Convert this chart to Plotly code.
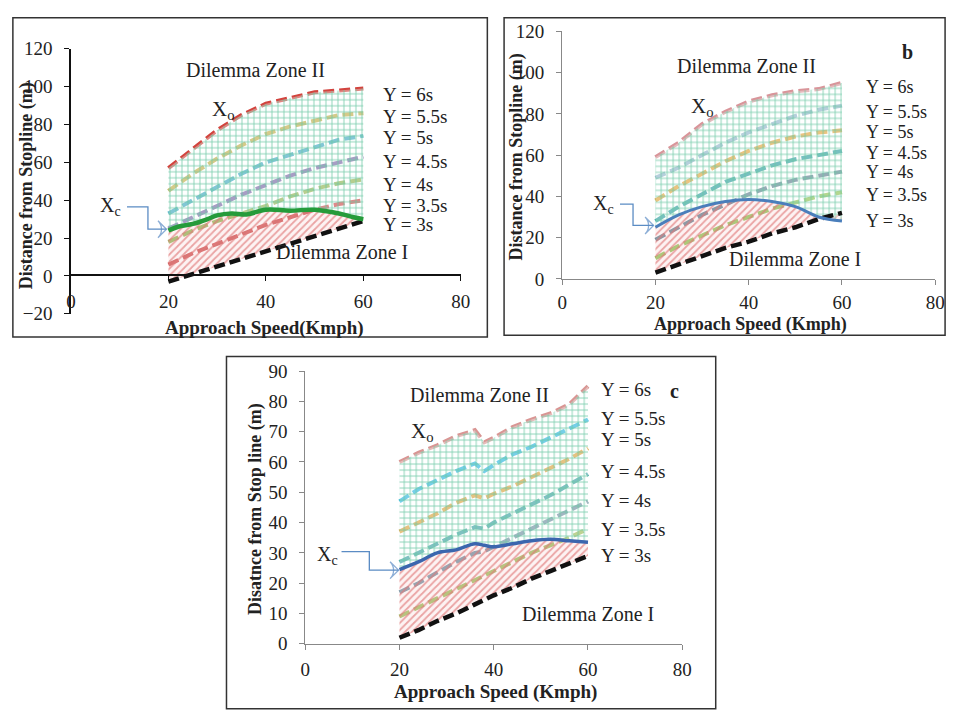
import plotly.graph_objects as go

W, H = 960, 714
SERIF = "Liberation Serif"

# ---------------- data ----------------
speed = [20, 25, 30, 35, 40, 45, 50, 55, 60]
y_labels = ["Y = 6s", "Y = 5.5s", "Y = 5s", "Y = 4.5s", "Y = 4s", "Y = 3.5s", "Y = 3s"]

# panel a
a_y6 = [57, 67, 77, 85, 91, 94, 97, 98, 99]
a_y55 = [45, 54, 62, 69, 75, 79, 82, 85, 86]
a_y5 = [33, 40, 47, 54, 60, 64, 68, 72, 74]
a_y45 = [25, 31, 37, 43, 48, 53, 57, 60, 63]
a_y4 = [18, 24, 29, 33, 37, 42, 46, 49, 51]
a_y35 = [6, 12, 17, 22, 27, 31, 35, 38, 40]
a_y3 = [-3, 1, 5, 9, 13, 17, 21, 25, 29]
a_xc_speed = [20, 22, 25, 28, 30, 33, 36, 40, 45, 50, 55, 58, 60]
a_xc = [24, 26, 27.5, 30, 32, 33, 32.5, 35, 34.5, 35, 33, 31, 30]

# panel b
b_y6 = [59, 66, 75, 81, 86, 89, 91, 92, 95]
b_y55 = [49, 54, 60, 66, 71, 75, 79, 82, 84]
b_y5 = [38, 45, 51, 57, 62, 66, 69, 71, 72]
b_y45 = [28, 35, 41, 47, 51, 55, 58, 60, 62]
b_y4 = [19, 25, 31, 36, 41, 45, 48, 50, 52]
b_y35 = [10, 16, 21, 26, 30, 34, 37, 40, 42]
b_y3 = [3, 7, 11, 15, 18, 22, 25, 29, 32]
b_xc_speed = [20, 25, 30, 35, 40, 45, 50, 55, 60]
b_xc = [25, 31, 35, 37.5, 38.5, 37.5, 35, 30, 28]

# panel c
c_speed = [20, 24, 28, 32, 36, 38, 40, 44, 48, 52, 56, 60]
c_y6 = [60, 63, 65.5, 68.5, 70.5, 66.5, 68, 71.5, 74, 76, 79, 85]
c_y55 = [47, 51, 54, 57, 59.5, 57, 59, 62.5, 65, 68, 71, 74]
c_y5 = [37, 40, 43, 46.5, 49, 48, 49.5, 52, 55, 58, 61, 64.5]
c_y45 = [27, 30, 33, 36, 38.5, 38, 40, 43, 46, 49, 52.5, 56]
c_y4 = [17, 20, 23.5, 27, 30, 30.5, 32, 35, 38, 41, 44, 47]
c_y35 = [9, 12, 15, 18, 21, 22.5, 24, 27, 30, 32.5, 35, 38]
c_y3 = [2, 4.5, 7.5, 10, 13, 14.5, 16, 18.5, 21.5, 24, 26.5, 29]
c_xc = [24.5, 27, 30, 31, 33, 32.5, 32, 33, 34, 34.5, 34, 33.5]

# label positions (in each panel's data units)
a_label_y = [95.9, 84.5, 73.2, 60.3, 48.5, 37.1, 27.3]
b_label_y = [93.2, 81.0, 71.2, 61.0, 51.8, 40.5, 28.2]
c_label_y = [83.9, 74.3, 67.3, 56.7, 47.4, 37.8, 29.1]

# Xc arrow paths
a_arrow_x = [11.5, 15.8, 15.8, 19.6]
a_arrow_y = [36.5, 36.5, 24.7, 24.7]
b_arrow_x = [12.4, 15.2, 15.2, 19.6]
b_arrow_y = [36.2, 36.2, 25.9, 25.9]
c_arrow_x = [7.7, 13.6, 13.6, 19.8]
c_arrow_y = [30.4, 30.4, 24.3, 24.3]

fig = go.Figure()


def panel(ax, speeds, series, colors, xc_speed, xc, xc_color, xc_width,
          arrow_x, arrow_y):
    xr, yr = ("x" if ax == 1 else f"x{ax}"), ("y" if ax == 1 else f"y{ax}")
    # dashed Y-lines (except 3s) drawn under the zone patterns
    for vals, col in zip(series[:-1], colors[:-1]):
        fig.add_trace(go.Scatter(x=speeds, y=vals, mode="lines", xaxis=xr, yaxis=yr,
                                 line=dict(color=col, width=4, dash="11px,5px"),
                                 hoverinfo="skip"))
    # Dilemma Zone I : between Y=3s line and Xc
    fig.add_trace(go.Scatter(
        x=list(xc_speed) + list(speeds)[::-1],
        y=list(xc) + list(series[-1])[::-1],
        mode="none", fill="toself", xaxis=xr, yaxis=yr, hoverinfo="skip",
        fillcolor="rgba(0,0,0,0)",
        fillpattern=dict(shape="/", fgcolor="#E07878", fgopacity=0.65,
                         bgcolor="rgba(250,215,215,0.3)", size=5, solidity=0.35,
                         fillmode="replace")))
    # Dilemma Zone II : between Xc and Y=6s line
    fig.add_trace(go.Scatter(
        x=list(speeds) + list(xc_speed)[::-1],
        y=list(series[0]) + list(xc)[::-1],
        mode="none", fill="toself", xaxis=xr, yaxis=yr, hoverinfo="skip",
        fillcolor="rgba(0,0,0,0)",
        fillpattern=dict(shape="+", fgcolor="#6CC8A4", fgopacity=0.9,
                         bgcolor="rgba(255,255,255,0.35)", size=6, solidity=0.26,
                         fillmode="replace")))
    # Y = 3s line
    fig.add_trace(go.Scatter(x=speeds, y=series[-1], mode="lines", xaxis=xr, yaxis=yr,
                             line=dict(color=colors[-1], width=4.5, dash="11px,5px"),
                             hoverinfo="skip"))
    # Xc line
    fig.add_trace(go.Scatter(x=xc_speed, y=xc, mode="lines", xaxis=xr, yaxis=yr,
                             line=dict(color=xc_color, width=xc_width, shape="spline"),
                             hoverinfo="skip"))
    # Xc arrow
    fig.add_trace(go.Scatter(x=arrow_x, y=arrow_y, mode="lines+markers", xaxis=xr, yaxis=yr,
                             line=dict(color="#5B8CC4", width=1.3),
                             marker=dict(symbol="arrow-wide-open", size=[0, 0, 0, 12],
                                         angleref="previous", color="#5B8CC4",
                                         line=dict(color="#5B8CC4", width=1.3)),
                             hoverinfo="skip"))


panel(1, speed, [a_y6, a_y55, a_y5, a_y45, a_y4, a_y35, a_y3],
      ["#D2443E", "#BFAE4A", "#3FA9BF", "#7A68A6", "#8FB352", "#CC4B4B", "#111111"],
      a_xc_speed, a_xc, "#259B3A", 4.5, a_arrow_x, a_arrow_y)
panel(2, speed, [b_y6, b_y55, b_y5, b_y45, b_y4, b_y35, b_y3],
      ["#D9959A", "#8FB6C9", "#E0A53C", "#2E9E9E", "#5F7F8F", "#8CC152", "#111111"],
      b_xc_speed, b_xc, "#4A7EBB", 3, b_arrow_x, b_arrow_y)
panel(3, c_speed, [c_y6, c_y55, c_y5, c_y45, c_y4, c_y35, c_y3],
      ["#D99694", "#2BB5DC", "#D9A23D", "#3AA0A0", "#6E8FA0", "#9BBB59", "#111111"],
      c_speed, c_xc, "#3B66AE", 3.5, c_arrow_x, c_arrow_y)


def px_x(p):
    return p / W


def px_y(p):
    return 1 - p / H


tickfont = dict(family=SERIF, size=19, color="#222222")
common = dict(showgrid=False, zeroline=False, showline=True, ticks="outside",
              ticklen=5, tickfont=tickfont)

fig.update_layout(
    width=W, height=H, margin=dict(l=0, r=0, t=0, b=0), autosize=False,
    paper_bgcolor="white", plot_bgcolor="rgba(0,0,0,0)", showlegend=False,
    font=dict(family=SERIF, color="#222222"),
    xaxis=dict(domain=[px_x(67), px_x(463)], range=[0, 80], tickvals=[0, 20, 40, 60, 80],
               anchor="free", position=px_y(273), linecolor="#111111", linewidth=1.5,
               tickcolor="#111111", ticklabelstandoff=4, **common),
    yaxis=dict(domain=[px_y(313), px_y(40)], range=[-20, 120], dtick=20, anchor="x",
               linecolor="#111111", linewidth=1.5, tickcolor="#111111",
               ticklabelstandoff=8, **common),
    xaxis2=dict(domain=[px_x(566), px_x(945)], range=[0, 80], tickvals=[0, 20, 40, 60, 80],
                anchor="y2", linecolor="#888888", tickcolor="#888888",
                ticklabelstandoff=1, **common),
    yaxis2=dict(domain=[px_y(277), px_y(22)], range=[0, 120], dtick=20, anchor="x2",
                linecolor="#888888", tickcolor="#888888", ticklabelstandoff=8, **common),
    xaxis3=dict(domain=[px_x(305), px_x(688)], range=[0, 80], tickvals=[0, 20, 40, 60, 80],
                anchor="y3", linecolor="#888888", tickcolor="#888888",
                ticklabelstandoff=3, **common),
    yaxis3=dict(domain=[px_y(653), px_y(372)], range=[0, 90], dtick=10, anchor="x3",
                linecolor="#888888", tickcolor="#888888", ticklabelstandoff=8, **common),
)

# panel borders
for x0, y0, x1, y1 in [(8, 8, 490, 337), (507, 8, 955, 335), (225, 357, 722, 720)]:
    fig.add_shape(type="rect", xref="paper", yref="paper",
                  x0=px_x(x0), x1=px_x(x1), y0=px_y(y1), y1=px_y(y0),
                  line=dict(color="#333333", width=1.5), layer="below")

ann = []


def txt(ax, x, y, text, size=19, bold=False, xanchor="center"):
    xr, yr = ("x" if ax == 1 else f"x{ax}"), ("y" if ax == 1 else f"y{ax}")
    ann.append(dict(xref=xr, yref=yr, x=x, y=y, text=f"<b>{text}</b>" if bold else text,
                    showarrow=False, xanchor=xanchor, yanchor="middle",
                    font=dict(family=SERIF, size=size, color="#222222")))


def ptxt(px, py, text, angle=0, size=18):
    ann.append(dict(xref="paper", yref="paper", x=px_x(px), y=px_y(py), text=f"<b>{text}</b>",
                    showarrow=False, xanchor="center", yanchor="middle", textangle=angle,
                    font=dict(family=SERIF, size=size, color="#222222")))


# panel a
txt(1, 75.6, 121.6, "a", 20, True)
txt(1, 37.8, 108.8, "Dilemma Zone II", 20)
txt(1, 31.3, 87.6, "X<sub>o</sub>", 21)
txt(1, 8.1, 36.6, "X<sub>c</sub>", 20)
txt(1, 55.6, 12.9, "Dilemma Zone I", 20)
for lab, yv in zip(y_labels, a_label_y):
    txt(1, 63.6, yv, lab, 19, xanchor="left")
ptxt(264, 328, "Approach Speed(Kmph)", 0, 19)
ptxt(22, 181, "Distance from Stopline (m)", -90, 18)

# panel b
txt(2, 74.1, 110, "b", 20, True)
txt(2, 39.5, 103, "Dilemma Zone II", 20)
txt(2, 30, 83.3, "X<sub>o</sub>", 21)
txt(2, 8.9, 36.2, "X<sub>c</sub>", 20)
txt(2, 50, 9.4, "Dilemma Zone I", 20)
for lab, yv in zip(y_labels, b_label_y):
    txt(2, 64.8, yv, lab, 18, xanchor="left")
ptxt(757, 324, "Approach Speed (Kmph)", 0, 18)
ptxt(520, 151, "Distance from Stopline (m)", -90, 18)

# panel c
txt(3, 78.3, 83.3, "c", 20, True)
txt(3, 37, 82, "Dilemma Zone II", 20)
txt(3, 24.8, 69.8, "X<sub>o</sub>", 21)
txt(3, 4.8, 29.1, "X<sub>c</sub>", 20)
txt(3, 59.9, 9.9, "Dilemma Zone I", 20)
for lab, yv in zip(y_labels, c_label_y):
    txt(3, 62.3, yv, lab, 19, xanchor="left")
ptxt(498, 703, "Approach Speed (Kmph)", 0, 19)
ptxt(255, 514, "Disatnce from Stop line (m)", -90, 18)

fig.update_layout(annotations=ann)
fig.write_html("out.html")
